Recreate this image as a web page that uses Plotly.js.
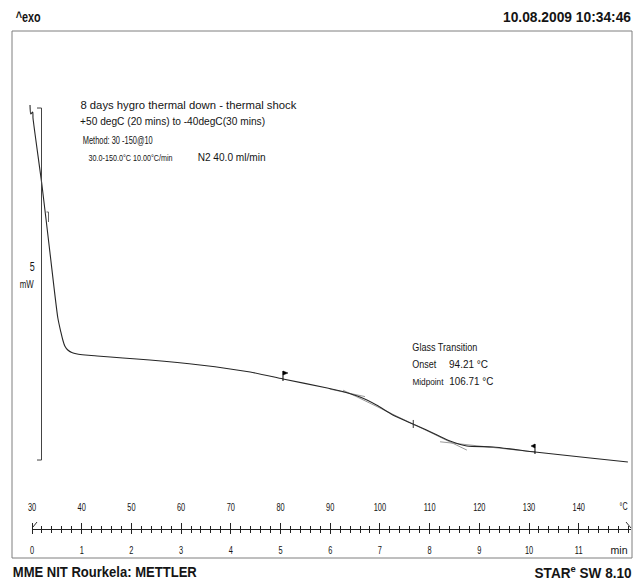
<!DOCTYPE html>
<html>
<head>
<meta charset="utf-8">
<script src="https://cdn.plot.ly/plotly-3.0.1.min.js"></script>
<style>html,body{margin:0;padding:0;background:#fff;}#chart{width:642px;height:584px;}</style>
</head>
<body>
<div id="chart"></div>
<script>
// ---- DSC curve (temperature in °C, heat flow in mW) ----
const tempC = [29.6, 29.75, 30.15, 30.2, 32.0, 33.6, 35.2, 35.8, 36.2, 36.6, 37.2, 38.0, 39.1, 40.7, 43.1, 48.3, 53.7, 63.8, 73.9, 80.5, 89.4, 92.5, 96.0, 99.3, 102.6, 107.1, 111.5, 114.1, 117.5, 122.8, 131.2, 142.3, 149.9];
const heatFlow = [5.071, 4.943, 4.972, 4.886, 3.935, 2.983, 2.045, 1.847, 1.733, 1.648, 1.591, 1.555, 1.534, 1.520, 1.506, 1.477, 1.449, 1.378, 1.278, 1.179, 1.051, 1.001, 0.923, 0.810, 0.668, 0.526, 0.384, 0.298, 0.227, 0.213, 0.142, 0.057, 0.000];

// glass-transition construction lines
const tangentT = [92.6, 117.5];
const tangentMW = [1.020, 0.169];
const baseline1T = [89.9, 97.0];
const baseline1MW = [1.036, 0.929];
const baseline2T = [112.1, 131.2];
const baseline2MW = [0.287, 0.142];

// evaluation limits (flags), midpoint, start mark
const flagT = [80.5, 131.2];
const flagMW = [1.179, 0.142];
const midT = 106.71, midMW = 0.540;
const onsetT = 94.21;
const startMarkT = 33.32, startMarkMW = 3.48;

// scale bar
const scaleBarMW = 5;
const scaleBarBase = 0.028;

// ruler tick labels
const tempTicks = [30, 40, 50, 60, 70, 80, 90, 100, 110, 120, 130, 140];
const minTicks = [0, 1, 2, 3, 4, 5, 6, 7, 8, 9, 10, 11];

const W = 642, H = 584;
const px = x => x / W;
const py = y => 1 - y / H;
const SANS = "Liberation Sans, Arial, sans-serif";
const INK = "#141414";

const traces = [
  {x: baseline1T, y: baseline1MW, mode: 'lines', line: {color: '#9a9a9a', width: 1}, hoverinfo: 'skip', showlegend: false},
  {x: baseline2T, y: baseline2MW, mode: 'lines', line: {color: '#9a9a9a', width: 1}, hoverinfo: 'skip', showlegend: false},
  {x: tangentT, y: tangentMW, mode: 'lines', line: {color: '#9a9a9a', width: 1}, hoverinfo: 'skip', showlegend: false},
  {x: tempC, y: heatFlow, mode: 'lines', line: {color: '#262626', width: 1.1, shape: 'spline', smoothing: 0.6}, hoverinfo: 'skip', showlegend: false},
  {x: [30], y: [null], xaxis: 'x2', yaxis: 'y', mode: 'markers', hoverinfo: 'skip', showlegend: false},
  {x: [0], y: [null], xaxis: 'x3', yaxis: 'y', mode: 'markers', hoverinfo: 'skip', showlegend: false}
];

// [text, left px, centre y px, target width px, font size]
const textSpecs = [
  ['<b>^exo</b>', 15, 17, 25, 14],
  ['<b>10.08.2009 10:34:46</b>', 503, 17, 128, 14],
  ['<b>MME NIT Rourkela: METTLER</b>', 13, 572, 184, 14],
  ['<b>STAR<sup>e</sup> SW 8.10</b>', 534, 572, 97, 14],
  ['8 days hygro thermal down - thermal shock', 81, 105, 216, 10.5],
  ['+50 degC (20 mins) to -40degC(30 mins)', 80, 121, 185, 10.5],
  ['Method: 30 -150@10', 83, 140, 70, 11],
  ['30.0-150.0°C 10.00°C/min', 88, 157, 84, 9.5],
  ['N2 40.0 ml/min', 197, 157, 68, 10],
  ['Glass Transition', 412, 347, 65, 10],
  ['Onset', 412, 364, 24, 10],
  [onsetT.toFixed(2) + ' °C', 449, 364, 39, 10],
  ['Midpoint', 412, 381, 31, 9.5],
  [midT.toFixed(2) + ' °C', 449, 381, 44, 10],
  [String(scaleBarMW), 30, 267, 5, 12],
  ['mW', 20, 284, 14, 11],
  ['°C', 619, 506, 8, 10],
  ['min', 610, 550, 17, 10]
];

const annotations = textSpecs.map(s => ({
  text: s[0], x: px(s[1] + s[3] / 2), y: py(s[2]), xref: 'paper', yref: 'paper',
  xanchor: 'center', yanchor: 'middle', showarrow: false, borderpad: 0,
  font: {family: SANS, size: s[4], color: INK}
}));

const shapes = [
  {type: 'rect', xref: 'paper', yref: 'paper', x0: px(12), x1: px(632), y0: py(31), y1: py(558), line: {color: '#7f7f7f', width: 1}},
  // scale bar
  {type: 'line', xref: 'paper', yref: 'y', x0: px(41.5), x1: px(41.5), y0: scaleBarBase, y1: scaleBarBase + scaleBarMW, line: {color: '#444', width: 1}},
  {type: 'line', xref: 'paper', yref: 'y', x0: px(37), x1: px(41.5), y0: scaleBarBase + scaleBarMW, y1: scaleBarBase + scaleBarMW, line: {color: '#444', width: 1}},
  {type: 'line', xref: 'paper', yref: 'y', x0: px(37), x1: px(41.5), y0: scaleBarBase, y1: scaleBarBase, line: {color: '#444', width: 1}},
  // ruler end marks
  {type: 'line', xref: 'paper', yref: 'paper', x0: px(33), y0: py(527), x1: px(37), y1: py(522), line: {color: '#333', width: 1}},
  {type: 'line', xref: 'paper', yref: 'paper', x0: px(626), y0: py(522), x1: px(631), y1: py(528), line: {color: '#333', width: 1}},
  // flags
  {type: 'path', xref: 'x', yref: 'y', xsizemode: 'pixel', ysizemode: 'pixel', xanchor: flagT[0], yanchor: flagMW[0], path: 'M0,-2 L0,8', line: {color: '#000', width: 1}},
  {type: 'path', xref: 'x', yref: 'y', xsizemode: 'pixel', ysizemode: 'pixel', xanchor: flagT[0], yanchor: flagMW[0], path: 'M0,8 L5,6 L0,4 Z', fillcolor: '#000', line: {color: '#000', width: 0.5}},
  {type: 'path', xref: 'x', yref: 'y', xsizemode: 'pixel', ysizemode: 'pixel', xanchor: flagT[1], yanchor: flagMW[1], path: 'M0,-2 L0,8', line: {color: '#000', width: 1}},
  {type: 'path', xref: 'x', yref: 'y', xsizemode: 'pixel', ysizemode: 'pixel', xanchor: flagT[1], yanchor: flagMW[1], path: 'M0,8 L-4,6 L0,4 Z', fillcolor: '#000', line: {color: '#000', width: 0.5}},
  // midpoint tick
  {type: 'path', xref: 'x', yref: 'y', xsizemode: 'pixel', ysizemode: 'pixel', xanchor: midT, yanchor: midMW, path: 'M0,-4 L0,4', line: {color: '#333', width: 1}},
  // start mark
  {type: 'path', xref: 'x', yref: 'y', xsizemode: 'pixel', ysizemode: 'pixel', xanchor: startMarkT, yanchor: startMarkMW, path: 'M-2,5 L0,5 L0,-5', line: {color: '#666', width: 1}}
];

const tickFont = {family: SANS, size: 10, color: INK};
const layout = {
  width: W, height: H,
  margin: {l: 0, r: 0, t: 0, b: 0, pad: 0},
  paper_bgcolor: '#fff', plot_bgcolor: 'rgba(0,0,0,0)',
  showlegend: false,
  xaxis: {range: [23.561, 152.736], visible: false, fixedrange: true, domain: [0, 1]},
  yaxis: {range: [-1.733, 6.5625], visible: false, fixedrange: true, domain: [0, 1]},
  xaxis2: {
    anchor: 'free', position: py(529), domain: [px(32), px(631)],
    side: 'top', range: [30, 150.523], tickmode: 'array', tickvals: tempTicks, ticktext: tempTicks.map(String),
    ticks: 'outside', ticklen: 6, tickcolor: '#222', tickwidth: 1, ticklabelstandoff: 8,
    showline: true, linecolor: '#222', linewidth: 1, showgrid: false, zeroline: false, fixedrange: true,
    tickfont: tickFont,
    minor: {tickmode: 'linear', tick0: 30, dtick: 2, ticks: 'outside', ticklen: 3, tickcolor: '#222', tickwidth: 1, showgrid: false}
  },
  xaxis3: {
    overlaying: 'x2', anchor: 'free', position: py(529),
    side: 'bottom', range: [0, 12.0523], tickmode: 'array', tickvals: minTicks, ticktext: minTicks.map(String),
    ticks: 'outside', ticklen: 4, tickcolor: '#222', tickwidth: 1, ticklabelstandoff: 8,
    showline: true, linecolor: '#222', linewidth: 1, showgrid: false, zeroline: false, fixedrange: true,
    tickfont: tickFont,
    minor: {tickmode: 'linear', tick0: 0, dtick: 0.2, ticks: 'outside', ticklen: 3, tickcolor: '#222', tickwidth: 1, showgrid: false}
  },
  annotations: annotations,
  shapes: shapes
};

// condense texts horizontally (the original uses a narrow screen font)
function squeeze(el, width) {
  if (!el || !(width > 0)) return;
  el.setAttribute('textLength', width.toFixed(2));
  el.setAttribute('lengthAdjust', 'spacingAndGlyphs');
}

Plotly.newPlot('chart', traces, layout, {staticPlot: true, displayModeBar: false}).then(gd => {
  textSpecs.forEach((s, i) => {
    const t = gd.querySelector('g.annotation[data-index="' + i + '"] text.annotation-text');
    squeeze(t, s[3]);
  });
  gd.querySelectorAll('g.x2tick text, g.x3tick text').forEach(t => {
    squeeze(t, t.getComputedTextLength() * 0.74);
  });
});
</script>
</body>
</html>
